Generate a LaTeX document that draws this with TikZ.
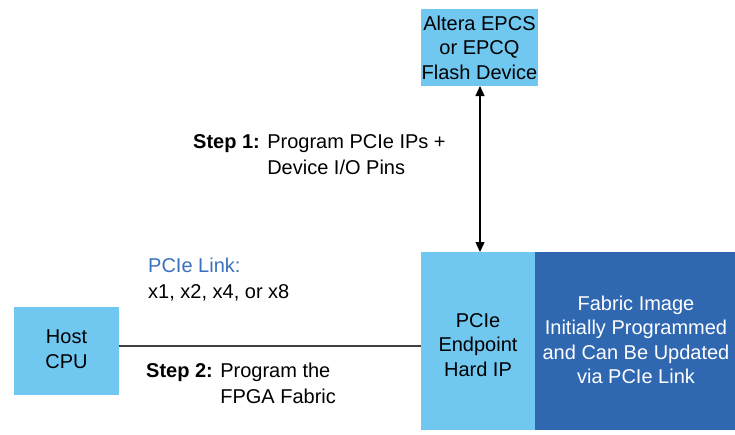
\documentclass[tikz,border=0pt]{standalone}
\usepackage{fontspec}
\setmainfont{Liberation Sans}
\usetikzlibrary{arrows.meta}
\definecolor{lightb}{HTML}{70C8F0}
\definecolor{darkb}{HTML}{2F67B1}
\definecolor{linkb}{HTML}{3A70BE}
\definecolor{lineg}{HTML}{404040}
\tikzset{
  box/.style={fill=lightb, draw=none, inner sep=0pt, align=center, font=\fontsize{20}{24.5}\selectfont},
  lbl/.style={inner sep=0pt, align=left, font=\fontsize{20}{26}\selectfont},
}
\begin{document}
\begin{tikzpicture}[x=1pt,y=-1pt]
\useasboundingbox (0,0) rectangle (735,434);
% boxes
\fill[lightb] (421,9) rectangle (538,86);
\node[box, fill=none] (flash) at (479.5,47.5) {Altera EPCS\\or EPCQ\\Flash Device};
\coordinate (flashb) at (480,86);
\fill[lightb] (421,252) rectangle (535,430);
\node[box, fill=none] (pcie) at (478,345) {PCIe\\Endpoint\\Hard IP};
\coordinate (pciet) at (480,252);
\coordinate (pciel) at (421,346);
\fill[darkb] (535,252) rectangle (735,430);
\node[box, fill=none, text=white] (fab) at (636,340) {Fabric Image\\Initially Programmed\\and Can Be Updated\\via PCIe Link};
\fill[lightb] (14,307) rectangle (119,395);
\node[box, fill=none] (host) at (66.5,349) {Host\\CPU};
\coordinate (hostr) at (119,346);
% connectors
\draw[line width=1.3pt, {Triangle[width=9pt,length=10pt]}-{Triangle[width=9pt,length=10pt]}] (flashb) -- (pciet);
\draw[line width=1.4pt, lineg] (hostr) -- (pciel);
% labels
\node[lbl, anchor=north west] (s1) at (193,130) {\begin{tabular}{@{}l@{ }l@{}}\textbf{Step 1:} & Program PCIe IPs +\\ & Device I/O Pins\end{tabular}};
\node[lbl, anchor=north west] (s2) at (146,359) {\begin{tabular}{@{}l@{ }l@{}}\textbf{Step 2:} & Program the\\ & FPGA Fabric\end{tabular}};
\node[lbl, anchor=north west] (lnk) at (148,258) {\textcolor{linkb}{PCIe Link:}\\x1, x2, x4, or x8};
\end{tikzpicture}
\end{document}
